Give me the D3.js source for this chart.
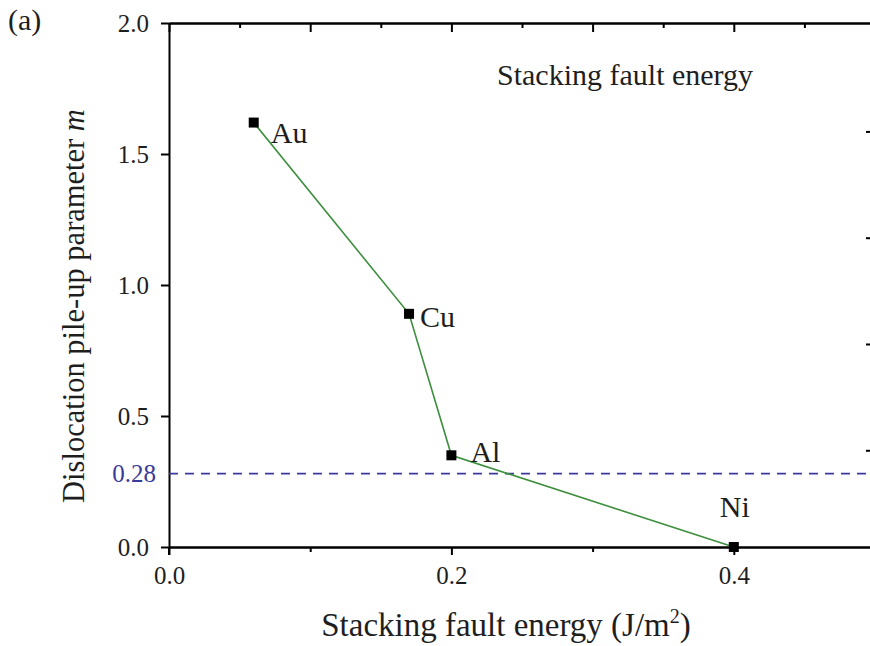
<!DOCTYPE html>
<html>
<head>
<meta charset="utf-8">
<script src="https://cdn.jsdelivr.net/npm/d3@7"></script>
<style>
  html, body { margin: 0; padding: 0; background: #fff; }
  svg { display: block; font-family: "Liberation Serif", "Times New Roman", serif; }
</style>
</head>
<body>
<svg id="chart" width="870" height="646"></svg>
<script>
// Metals and their stacking fault energy vs. pile-up parameter m
const metals = ["Au", "Cu", "Al", "Ni"];
const sfe = [0.06, 0.17, 0.20, 0.40];          // J/m^2
const pileUp = [1.62, 0.89, 0.35, 0.0];       // parameter m
const threshold = 0.28;

const xTicksMajor = [0.0, 0.2, 0.4];
const xTicksMinor = [0.1, 0.3];
const topTicksMajor = [0.0, 0.1, 0.2, 0.3, 0.4];
const topTicksMinor = [0.05, 0.15, 0.25, 0.35, 0.45];
const yTicks = [0.0, 0.5, 1.0, 1.5, 2.0];
const rightTicks = [0, 1, 2, 3];

const svg = d3.select("#chart");
const plotL = 169, plotR = 875, plotT = 23, plotB = 547;

const x = d3.scaleLinear().domain([0, 0.5]).range([plotL, plotR]);
const y = d3.scaleLinear().domain([0, 2.0]).range([plotB, plotT]);
const yRight = d3.scaleLinear().domain([-0.91, 4.02]).range([plotB, plotT]);

const fmt1 = d3.format(".1f");
const axisStroke = "#000";
const textColor = "#1e1e1e";
const tickFont = "25px";

function styleAxis(g) {
  g.select(".domain").attr("stroke", axisStroke).attr("stroke-width", 2);
  g.selectAll(".tick line").attr("stroke", axisStroke).attr("stroke-width", 2);
  g.selectAll(".tick text")
    .attr("fill", textColor)
    .style("font-size", tickFont)
    .style("font-family", "'Liberation Serif', serif");
}

// bottom axis: labelled majors, short minors
svg.append("g").attr("transform", `translate(0,${plotB})`)
  .call(d3.axisBottom(x).tickValues(xTicksMinor).tickSize(5).tickFormat("").tickSizeOuter(0))
  .call(styleAxis);
svg.append("g").attr("transform", `translate(0,${plotB})`)
  .call(d3.axisBottom(x).tickValues(xTicksMajor).tickSize(8).tickPadding(11).tickFormat(fmt1).tickSizeOuter(0))
  .call(styleAxis);

// top axis: inward ticks, no labels
svg.append("g").attr("transform", `translate(0,${plotT})`)
  .call(d3.axisBottom(x).tickValues(topTicksMinor).tickSize(5).tickFormat("").tickSizeOuter(0))
  .call(styleAxis);
svg.append("g").attr("transform", `translate(0,${plotT})`)
  .call(d3.axisBottom(x).tickValues(topTicksMajor).tickSize(9).tickFormat("").tickSizeOuter(0))
  .call(styleAxis);

// left axis
svg.append("g").attr("transform", `translate(${plotL},0)`)
  .call(d3.axisLeft(y).tickValues(yTicks).tickSize(8).tickPadding(12).tickFormat(fmt1).tickSizeOuter(0))
  .call(styleAxis);

// right axis sits just past the edge; only its inward ticks show
svg.append("g").attr("transform", `translate(${plotR},0)`)
  .call(d3.axisLeft(yRight).tickValues(rightTicks).tickSize(9).tickFormat("").tickSizeOuter(0))
  .call(styleAxis);

// extend left axis slightly below x-axis
svg.append("line")
  .attr("x1", plotL).attr("x2", plotL)
  .attr("y1", plotB).attr("y2", plotB + 8)
  .attr("stroke", axisStroke).attr("stroke-width", 2);

// threshold reference line
const refColor = "#3a3a9a";
svg.append("line")
  .attr("x1", plotL).attr("x2", 870)
  .attr("y1", y(threshold)).attr("y2", y(threshold))
  .attr("stroke", refColor).attr("stroke-width", 1.6)
  .attr("stroke-dasharray", "9,7");
svg.append("text")
  .attr("x", plotL - 13).attr("y", y(threshold))
  .attr("dy", "0.35em")
  .attr("text-anchor", "end")
  .attr("fill", refColor)
  .style("font-size", tickFont)
  .text(d3.format(".2f")(threshold));

// data line and markers
const pts = metals.map((m, i) => ({ name: m, sfe: sfe[i], m: pileUp[i] }));
svg.append("path")
  .datum(pts)
  .attr("fill", "none")
  .attr("stroke", "#3d8f3d")
  .attr("stroke-width", 1.6)
  .attr("d", d3.line().x(d => x(d.sfe)).y(d => y(d.m)));

const mk = 10;
svg.selectAll("rect.pt").data(pts).join("rect")
  .attr("class", "pt")
  .attr("x", d => x(d.sfe) - mk / 2)
  .attr("y", d => y(d.m) - mk / 2)
  .attr("width", mk).attr("height", mk)
  .attr("fill", "#000");

// element labels
const labelOffset = { Au: [17, 20], Cu: [11, 13], Al: [19, 7], Ni: [-14, -30] };
svg.selectAll("text.lbl").data(pts).join("text")
  .attr("class", "lbl")
  .attr("x", d => x(d.sfe) + labelOffset[d.name][0])
  .attr("y", d => y(d.m) + labelOffset[d.name][1])
  .attr("fill", textColor)
  .style("font-size", "30px")
  .text(d => d.name);

// in-plot annotation
svg.append("text")
  .attr("x", 497).attr("y", 85)
  .attr("fill", textColor)
  .style("font-size", "30px")
  .text("Stacking fault energy");

// panel letter
svg.append("text")
  .attr("x", 8).attr("y", 30)
  .attr("fill", textColor)
  .style("font-size", "30px")
  .text("(a)");

// x axis title
const xt = svg.append("text")
  .attr("x", 506).attr("y", 636)
  .attr("text-anchor", "middle")
  .attr("fill", textColor)
  .style("font-size", "33px");
xt.append("tspan").text("Stacking fault energy (J/m");
xt.append("tspan").attr("dy", -13).style("font-size", "20px").text("2");
xt.append("tspan").attr("dy", 13).text(")");

// y axis title
const yt = svg.append("text")
  .attr("transform", `translate(84,306) rotate(-90)`)
  .attr("text-anchor", "middle")
  .attr("fill", textColor)
  .style("font-size", "30.5px");
yt.append("tspan").text("Dislocation pile-up parameter ");
yt.append("tspan").style("font-style", "italic").text("m");
</script>
</body>
</html>
